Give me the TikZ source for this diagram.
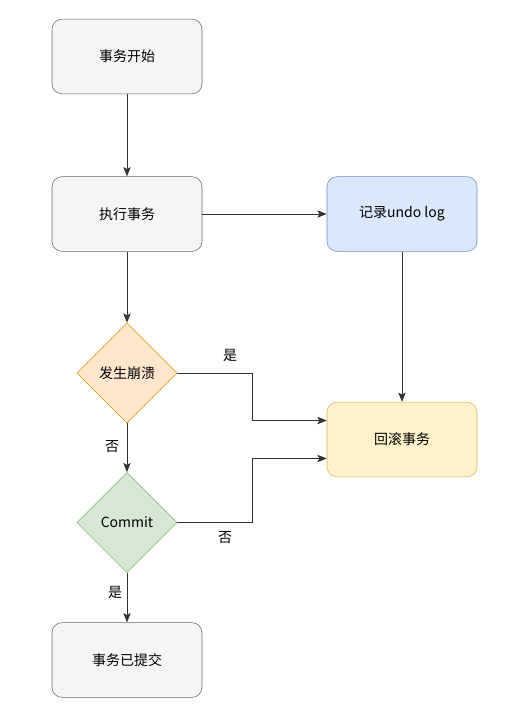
\documentclass[tikz,border=0pt]{standalone}
\usepackage{fontspec}
\setmainfont{Noto Sans CJK SC}
\usepackage{xcolor}
\usetikzlibrary{arrows.meta, positioning, calc, shapes.geometric}

\definecolor{grayfill}{HTML}{F5F5F5}
\definecolor{graydraw}{HTML}{666666}
\definecolor{bluefill}{HTML}{DAE8FC}
\definecolor{bluedraw}{HTML}{6C8EBF}
\definecolor{orangefill}{HTML}{FFE6CC}
\definecolor{orangedraw}{HTML}{D79B00}
\definecolor{yellowfill}{HTML}{FFF2CC}
\definecolor{yellowdraw}{HTML}{D6B656}
\definecolor{greenfill}{HTML}{D5E8D4}
\definecolor{greendraw}{HTML}{82B366}

\tikzset{
  box/.style={rectangle, rounded corners=7.5pt, minimum width=112.5pt, minimum height=56pt, font=\fontsize{10.5}{12}\selectfont},
  decision/.style={diamond, minimum width=75pt, minimum height=75pt, inner sep=0pt, font=\fontsize{10.5}{12}\selectfont},
  flow/.style={draw=black!80, line width=0.65pt, -{Stealth[length=7pt, width=5.5pt, inset=1.5pt]}},
  lbl/.style={font=\fontsize{10.5}{12}\selectfont}
}

\begin{document}
\begin{tikzpicture}[x=0.75pt, y=-0.75pt]
    \useasboundingbox (0, 0) rectangle (514, 727);

    % 节点
    \node[box, fill=grayfill, draw=graydraw] (start) at (127, 56.5) {事务开始};
    \node[box, fill=grayfill, draw=graydraw] (exec) at (127, 214) {执行事务};
    \node[box, fill=bluefill, draw=bluedraw] (undo) at (402, 214) {记录undo log};
    \node[decision, fill=orangefill, draw=orangedraw] (crash) at (127, 373) {发生崩溃};
    \node[box, fill=yellowfill, draw=yellowdraw] (rollback) at (402, 439.5) {回滚事务};
    \node[decision, fill=greenfill, draw=greendraw] (commit) at (127, 522.5) {Commit};
    \node[box, fill=grayfill, draw=graydraw] (done) at (127, 660) {事务已提交};

    % 连线
    \draw[flow] (start) -- (exec);
    \draw[flow] (exec) -- (undo);
    \draw[flow] (exec) -- (crash);
    \draw[flow] (undo) -- (rollback);
    \draw[flow] (crash.east) -- ++(75, 0) |- ([yshift=14.25pt]rollback.west);
    \draw[flow] (crash) -- (commit);
    \draw[flow] (commit.east) -- ++(75, 0) |- ([yshift=-14.25pt]rollback.west);
    \draw[flow] (commit) -- (done);

    % 标签
    \node[lbl] (yes1) at (230, 355) {是};
    \node[lbl] (no1) at (112, 447) {否};
    \node[lbl] (no2) at (225, 538) {否};
    \node[lbl] (yes2) at (115, 592) {是};
\end{tikzpicture}
\end{document}
